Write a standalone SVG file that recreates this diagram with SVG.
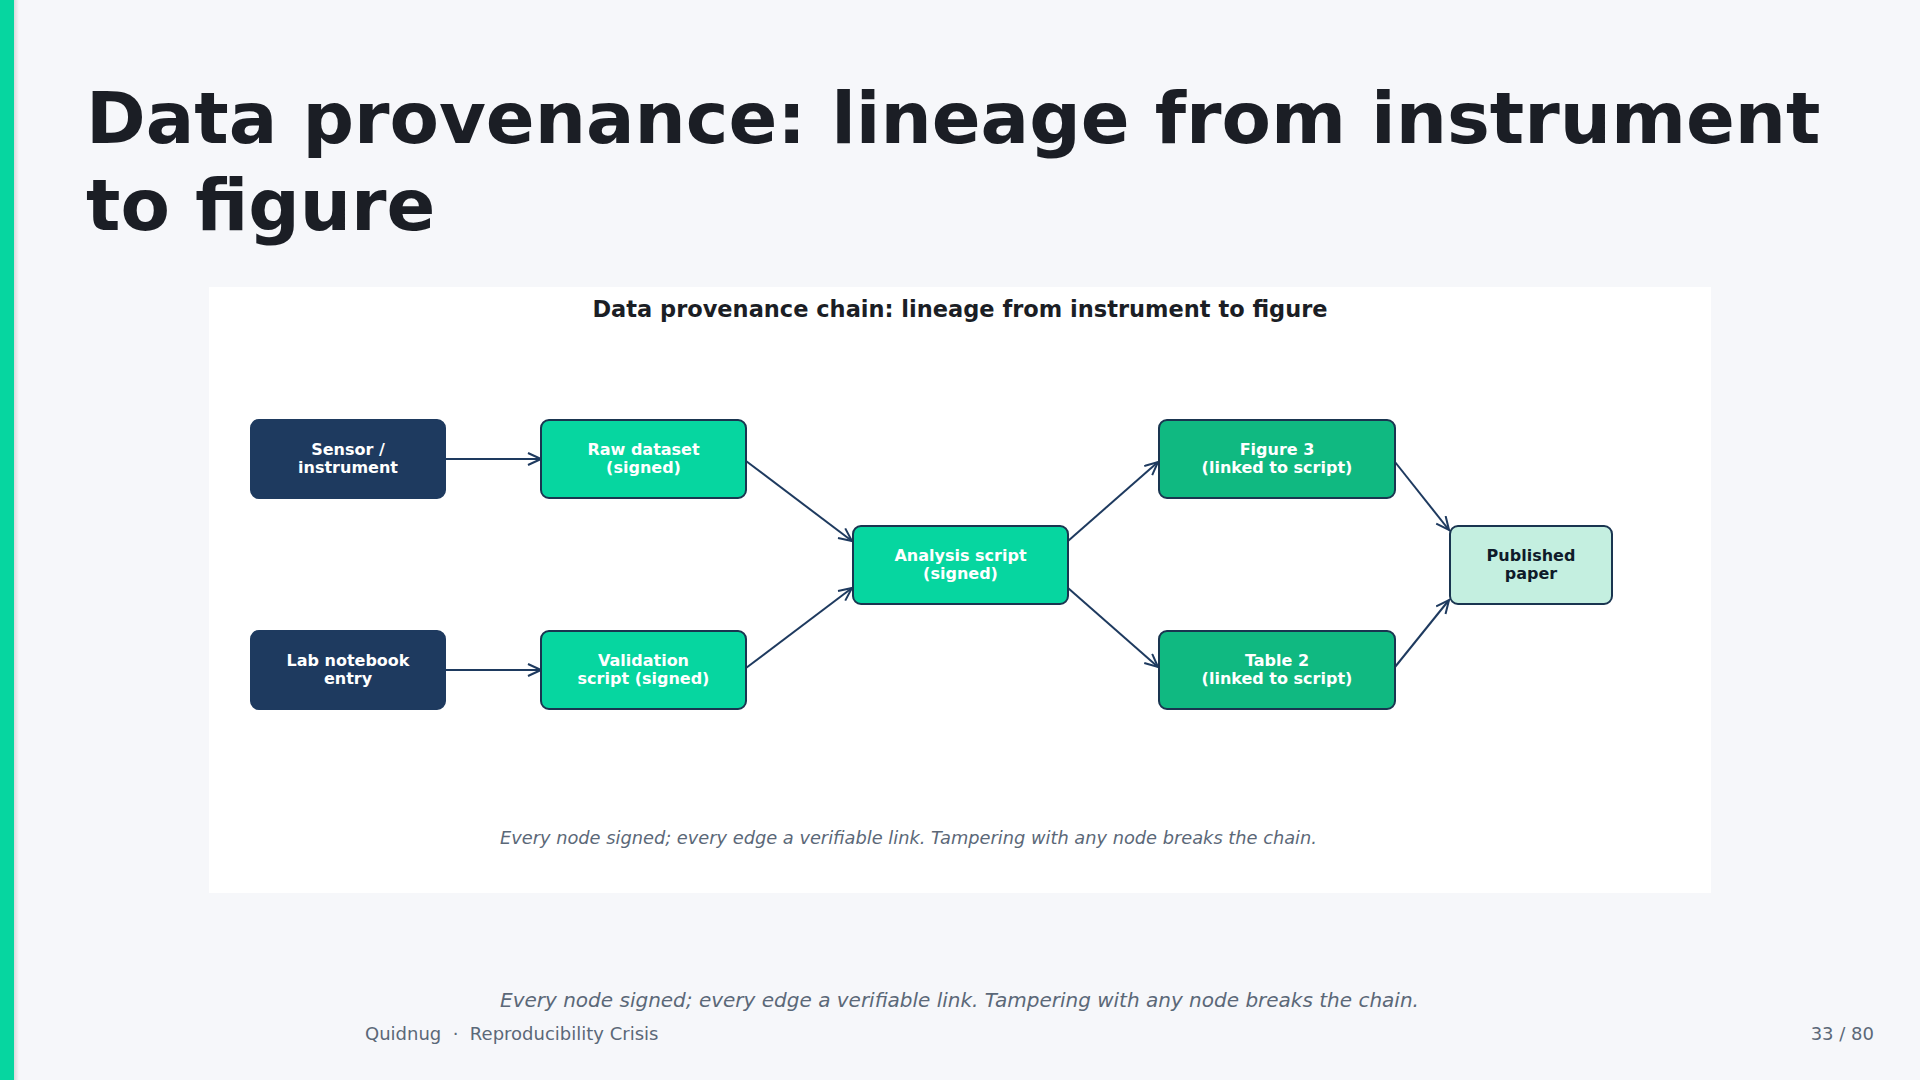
<svg xmlns="http://www.w3.org/2000/svg" width="1920" height="1080" viewBox="0 0 1920 1080">
<defs>
<style>
.title{font-family:"DejaVu Sans",sans-serif;font-weight:bold;font-size:72px;fill:#1b1e25}
.sub{font-family:"DejaVu Sans",sans-serif;font-weight:bold;font-size:22.5px;fill:#1b1e25}
.nt{font-family:"DejaVu Sans",sans-serif;font-weight:bold;font-size:16px;fill:#ffffff;text-anchor:middle}
.nt.dk{fill:#0f1b2a}
.cap{font-family:"DejaVu Sans",sans-serif;font-style:italic;font-size:17.8px;fill:#5b6878}
.foot{font-family:"DejaVu Sans",sans-serif;font-style:italic;font-size:20px;fill:#5b6878}
.meta{font-family:"DejaVu Sans",sans-serif;font-size:18px;fill:#5b6878}
.navy{fill:#1e3a5f;stroke:#1e3a5f;stroke-width:2}
.teal{fill:#06d6a0;stroke:#1a3550;stroke-width:2}
.green{fill:#10b981;stroke:#1a3550;stroke-width:2}
.mint{fill:#c4efe0;stroke:#1a3550;stroke-width:2}
.edge{stroke:#1e3a5f;stroke-width:2;fill:none;marker-end:url(#arr)}
</style>
<marker id="arr" markerUnits="userSpaceOnUse" markerWidth="16" markerHeight="16" viewBox="0 0 16 16" refX="14" refY="7" orient="auto">
<path d="M1,1 L14,7 L1,13" fill="none" stroke="#1e3a5f" stroke-width="2"/>
</marker>
<linearGradient id="sh" x1="0" x2="1" y1="0" y2="0">
<stop offset="0" stop-color="#000" stop-opacity="0.12"/>
<stop offset="1" stop-color="#000" stop-opacity="0"/>
</linearGradient>
</defs>
<rect x="0" y="0" width="1920" height="1080" fill="#f6f7fa"/>
<rect x="14" y="0" width="5" height="1080" fill="url(#sh)"/>
<rect x="0" y="0" width="14" height="1080" fill="#06d6a0"/>
<text class="title" x="86" y="143">Data provenance: lineage from instrument</text>
<text class="title" x="86" y="230">to figure</text>
<rect x="209" y="287" width="1502" height="606" fill="#ffffff"/>
<text class="sub" x="960" y="317" text-anchor="middle">Data provenance chain: lineage from instrument to figure</text>
<g id="connectors">
<line class="edge" x1="445" y1="459" x2="541" y2="459"/>
<line class="edge" x1="445" y1="670" x2="541" y2="670"/>
<line class="edge" x1="746" y1="461" x2="852" y2="541"/>
<line class="edge" x1="746" y1="668" x2="852" y2="588"/>
<line class="edge" x1="1068" y1="541" x2="1158" y2="462"/>
<line class="edge" x1="1068" y1="588" x2="1158" y2="667"/>
<line class="edge" x1="1395" y1="462" x2="1449" y2="530"/>
<line class="edge" x1="1395" y1="667" x2="1449" y2="600"/>
</g>
<g id="sensor">
<rect class="navy" x="251" y="420" width="194" height="78" rx="8"/>
<text class="nt" x="348" y="455">Sensor /</text>
<text class="nt" x="348" y="473">instrument</text>
</g>
<g id="raw">
<rect class="teal" x="541" y="420" width="205" height="78" rx="8"/>
<text class="nt" x="643.5" y="455">Raw dataset</text>
<text class="nt" x="643.5" y="473">(signed)</text>
</g>
<g id="lab">
<rect class="navy" x="251" y="631" width="194" height="78" rx="8"/>
<text class="nt" x="348" y="666">Lab notebook</text>
<text class="nt" x="348" y="684">entry</text>
</g>
<g id="validation">
<rect class="teal" x="541" y="631" width="205" height="78" rx="8"/>
<text class="nt" x="643.5" y="666">Validation</text>
<text class="nt" x="643.5" y="684">script (signed)</text>
</g>
<g id="analysis">
<rect class="teal" x="853" y="526" width="215" height="78" rx="8"/>
<text class="nt" x="960.5" y="560.5">Analysis script</text>
<text class="nt" x="960.5" y="578.5">(signed)</text>
</g>
<g id="figure3">
<rect class="green" x="1159" y="420" width="236" height="78" rx="8"/>
<text class="nt" x="1277" y="455">Figure 3</text>
<text class="nt" x="1277" y="473">(linked to script)</text>
</g>
<g id="table2">
<rect class="green" x="1159" y="631" width="236" height="78" rx="8"/>
<text class="nt" x="1277" y="666">Table 2</text>
<text class="nt" x="1277" y="684">(linked to script)</text>
</g>
<g id="paper">
<rect class="mint" x="1450" y="526" width="162" height="78" rx="8"/>
<text class="nt dk" x="1531" y="560.5">Published</text>
<text class="nt dk" x="1531" y="578.5">paper</text>
</g>
<text class="cap" x="500" y="844">Every node signed; every edge a verifiable link. Tampering with any node breaks the chain.</text>
<text class="foot" x="500" y="1007">Every node signed; every edge a verifiable link. Tampering with any node breaks the chain.</text>
<text class="meta" x="365" y="1040" xml:space="preserve">Quidnug  ·  Reproducibility Crisis</text>
<text class="meta" x="1874" y="1040" text-anchor="end">33 / 80</text>
</svg>
